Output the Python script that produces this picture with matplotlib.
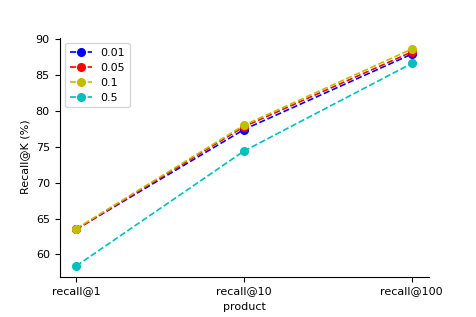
import matplotlib
matplotlib.use('Agg')
import matplotlib.pyplot as plt

metrics = ['recall@1', 'recall@10', 'recall@100']
labels = ['0.01', '0.05', '0.1', '0.5']
colors = ['b', 'r', 'y', 'c']
r_001 = [63.5, 77.4, 87.9]
r_005 = [63.5, 77.8, 88.2]
r_01 = [63.6, 78.0, 88.6]
r_05 = [58.4, 74.4, 86.6]

plt.rcParams['font.size'] = 8

fig = plt.figure(figsize=(4.76, 3.17), dpi=100)
ax = fig.add_axes([59.5 / 476, (317 - 276.7) / 317, 369 / 476, (276.7 - 37.6) / 317])

for vals, lab, c in zip([r_001, r_005, r_01, r_05], labels, colors):
    ax.plot(metrics, vals, '--o', color=c, label=lab, linewidth=1.2, markersize=5.5)

ax.spines['top'].set_visible(False)
ax.spines['right'].set_visible(False)
ax.set_ylim(56.9, 90.2)
ax.set_xlabel('product')
ax.set_ylabel('Recall@K (%)')
ax.legend(loc='upper left', labelspacing=0.45)

fig.savefig('out.png', dpi=100)
